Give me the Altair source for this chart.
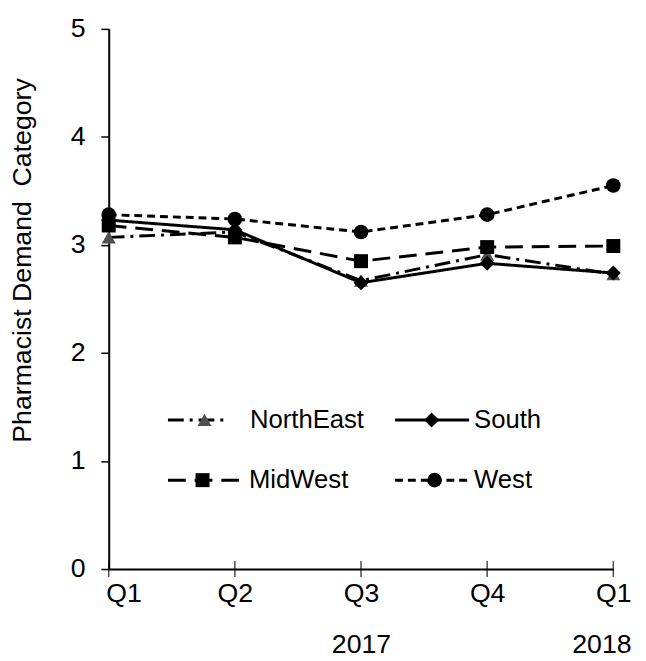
import altair as alt
import pandas as pd

# ---- data ----
quarters = ["Q1", "Q2", "Q3|2017", "Q4", "Q1|2018"]
regions = ["NorthEast", "South", "MidWest", "West"]
northeast = [3.07, 3.12, 2.67, 2.91, 2.73]
south = [3.23, 3.14, 2.65, 2.83, 2.74]
midwest = [3.18, 3.07, 2.85, 2.98, 2.99]
west = [3.28, 3.24, 3.12, 3.28, 3.55]
y_ticks = [0, 1, 2, 3, 4, 5]

series = {"NorthEast": northeast, "South": south, "MidWest": midwest, "West": west}
df = pd.DataFrame(
    [{"quarter": q, "region": r, "value": v}
     for r in regions for q, v in zip(quarters, series[r])]
)
qdf = pd.DataFrame({"quarter": quarters})

# ---- styles (same order as regions) ----
FONT = "Liberation Sans"
W, H = 511, 547
dashes = [[16, 6, 3, 6], [1, 0], [18, 9], [8, 5]]
shapes = ["triangle-up", "diamond", "square", "circle"]
sizes = [200, 230, 200, 220]
fills = ["#505050", "#000000", "#000000", "#000000"]

# ---- legend layout (pixels inside the plot area), same order as regions ----
leg_line_from = [60, 290, 60, 290]
leg_line_to = [122, 365, 137, 365]
leg_marker_at = [97, 327, 95, 330]
leg_label_at = [143, 370, 142, 370]
leg_row = [396, 396, 457, 457]

xscale = alt.Scale(type="point", padding=0, domain=quarters)
x_enc = alt.X(
    "quarter:N", sort=quarters, scale=xscale, title=None,
    axis=alt.Axis(
        labelExpr="split(datum.label, '|')", labelAngle=0, ticks=False,
        labelPadding=12, labelFontSize=27, labelLineHeight=52,
        labelFont=FONT, labelColor="black", domainColor="black", domainWidth=2,
        labelAlign={"condition": [
            {"test": "datum.value === 'Q1'", "value": "left"},
            {"test": "datum.value === 'Q1|2018'", "value": "right"}],
            "value": "center"},
        labelOffset={"condition": [
            {"test": "datum.value === 'Q1'", "value": -3},
            {"test": "datum.value === 'Q1|2018'", "value": 18}],
            "value": 0},
    ),
)
y_enc = alt.Y(
    "value:Q", scale=alt.Scale(domain=[0, 5], nice=False),
    title="Pharmacist Demand\u00a0 Category",
    axis=alt.Axis(values=y_ticks, format="d", tickSize=8, tickWidth=1.5, tickColor="black",
                  labelPadding=16, labelFontSize=27, labelFont=FONT, labelColor="black",
                  domainColor="black", domainWidth=2, titleFont=FONT,
                  titleFontSize=27, titleFontWeight="normal", titleColor="black",
                  titleX=-73, titleY=234),
)

base = alt.Chart(df)
lines = base.mark_line(strokeWidth=3, color="black").encode(
    x=x_enc, y=y_enc,
    strokeDash=alt.StrokeDash("region:N", scale=alt.Scale(domain=regions, range=dashes), legend=None),
)
point_layers = [
    base.transform_filter(alt.datum.region == r).mark_point(
        filled=True, shape=sh, size=sz, color=fc, opacity=1
    ).encode(x=x_enc, y=y_enc)
    for r, sh, sz, fc in zip(regions, shapes, sizes, fills)
]
xticks = alt.Chart(qdf).mark_tick(orient="vertical", color="black", thickness=1.5, size=16).encode(
    x=alt.X("quarter:N", sort=quarters, scale=xscale), y=alt.datum(0)
)
main = alt.layer(lines, *point_layers, xticks)

# ---- legend drawn inside the plot (own pixel scales, no axes) ----
ldf = pd.DataFrame({
    "region": regions, "x0": leg_line_from, "x1": leg_line_to,
    "xm": leg_marker_at, "xt": leg_label_at, "y": leg_row,
})
lx = alt.Scale(domain=[0, W])
ly = alt.Scale(domain=[0, H], reverse=True)
lbase = alt.Chart(ldf)
leg_lines = [
    lbase.transform_filter(alt.datum.region == r).mark_rule(
        strokeWidth=3, color="black", strokeDash=d
    ).encode(
        x=alt.X("x0:Q", scale=lx, axis=None), x2="x1:Q",
        y=alt.Y("y:Q", scale=ly, axis=None),
    )
    for r, d in zip(regions, dashes)
]
leg_points = [
    lbase.transform_filter(alt.datum.region == r).mark_point(
        filled=True, shape=sh, size=sz, color=fc, opacity=1
    ).encode(
        x=alt.X("xm:Q", scale=lx, axis=None),
        y=alt.Y("y:Q", scale=ly, axis=None),
    )
    for r, sh, sz, fc in zip(regions, shapes, sizes, fills)
]
leg_text = lbase.mark_text(
    align="left", baseline="middle", fontSize=26, font=FONT, color="black"
).encode(
    x=alt.X("xt:Q", scale=lx, axis=None),
    y=alt.Y("y:Q", scale=ly, axis=None),
    text="region:N",
)
legend = alt.layer(*leg_lines, *leg_points, leg_text)

chart = alt.layer(main, legend).resolve_scale(
    x="independent", y="independent"
).properties(
    width=W, height=H,
    autosize=alt.AutoSizeParams(type="none"),
    padding={"left": 102, "top": 17, "right": 25, "bottom": 89},
).configure_view(stroke=None).configure_axis(grid=False)

chart.save("out.html", embed_options={"renderer": "svg", "actions": False})
